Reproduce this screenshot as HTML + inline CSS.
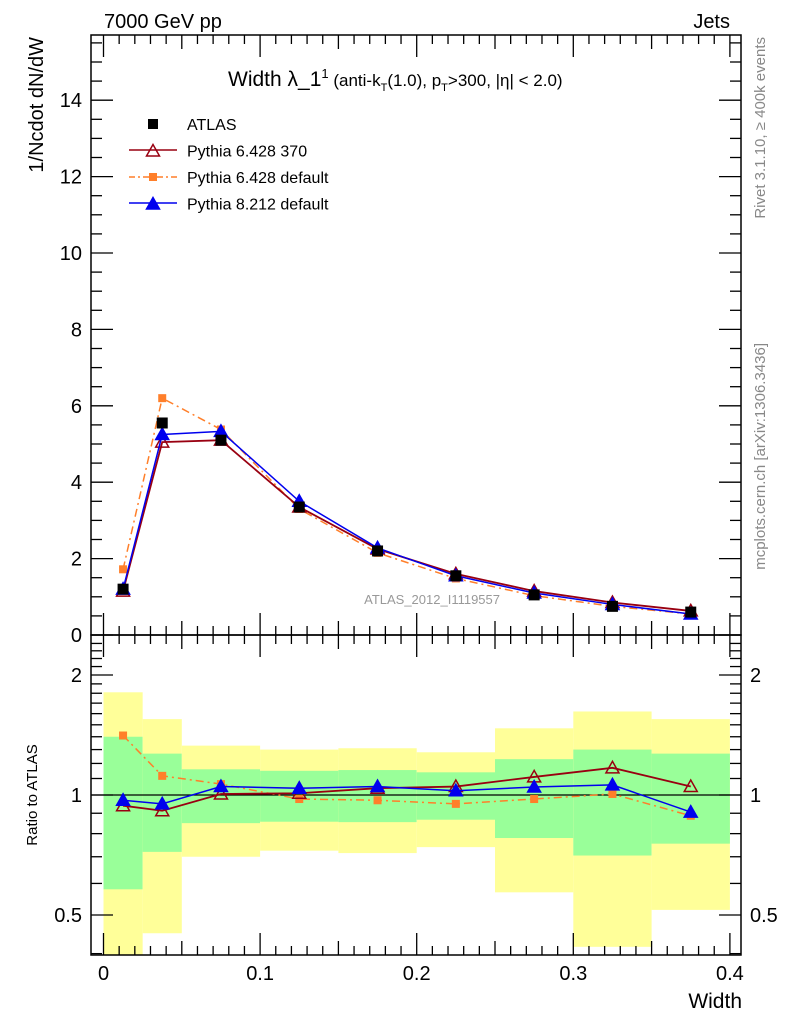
<!DOCTYPE html>
<html><head><meta charset="utf-8"><style>
body{margin:0;background:#fff}
svg{display:block;font-family:"Liberation Sans",sans-serif}
</style></head><body>
<svg id="c" width="786" height="1024" viewBox="0 0 786 1024"></svg>
<script>
const binEdges=[0,0.025,0.05,0.1,0.15,0.2,0.25,0.3,0.35,0.4];
const xCenters=[0.0125,0.0375,0.075,0.125,0.175,0.225,0.275,0.325,0.375];
const atlas=[1.2,5.55,5.1,3.35,2.2,1.55,1.05,0.75,0.6];
const py6370=[1.15,5.05,5.1,3.35,2.25,1.6,1.15,0.85,0.63];
const py6def=[1.72,6.2,5.38,3.3,2.15,1.48,1.03,0.75,0.55];
const py8=[1.2,5.25,5.33,3.5,2.28,1.55,1.1,0.8,0.55];
const r370=[0.94,0.913,1.006,1.01,1.04,1.05,1.11,1.17,1.05];
const rdef=[1.41,1.117,1.065,0.977,0.97,0.95,0.977,1.006,0.887];
const r8=[0.97,0.95,1.05,1.04,1.05,1.025,1.047,1.06,0.906];
const yelHi=[1.81,1.55,1.33,1.30,1.31,1.28,1.47,1.62,1.55];
const yelLo=[0.35,0.45,0.70,0.725,0.715,0.74,0.57,0.416,0.515];
const grnHi=[1.40,1.27,1.16,1.15,1.155,1.14,1.23,1.30,1.27];
const grnLo=[0.58,0.72,0.85,0.857,0.855,0.867,0.78,0.705,0.755];
const mainTicks=[0,2,4,6,8,10,12,14];
const ratioTicks=[0.5,1,2];
const xTicks=[0,0.1,0.2,0.3,0.4];

const L=91,R=741,T=35,M=635,B=955;
const X=v=>103.5+v*1566;
const Y=v=>635-v*38.2;
const RY=v=>795-Math.log2(v)*120;
const svg=document.getElementById('c');
const NS='http://www.w3.org/2000/svg';
function el(tag,attrs,parent){const e=document.createElementNS(NS,tag);for(const k in attrs)e.setAttribute(k,attrs[k]);(parent||svg).appendChild(e);return e;}
function txt(s,attrs,name){const e=el('text',attrs);e.textContent=s;


return e;}

const clip=el('clipPath',{id:'rc'});el('rect',{x:L,y:M,width:R-L,height:B-M},clip);
const bands=el('g',{'clip-path':'url(#rc)'});


for(let i=0;i<9;i++){
 const x0=X(binEdges[i]),x1=X(binEdges[i+1]);
 const y=el('rect',{x:x0,y:RY(yelHi[i]),width:x1-x0,height:RY(yelLo[i])-RY(yelHi[i]),fill:'#ffff99'},bands);
 
 
 const g=el('rect',{x:x0,y:RY(grnHi[i]),width:x1-x0,height:RY(grnLo[i])-RY(grnHi[i]),fill:'#99ff99'},bands);
 
 
}
el('line',{x1:L,x2:R,y1:RY(1),y2:RY(1),stroke:'#000','stroke-width':1.3});

const f1=el('rect',{x:L,y:T,width:R-L,height:M-T,fill:'none',stroke:'#000','stroke-width':1.5});

const f2=el('rect',{x:L,y:M,width:R-L,height:B-M,fill:'none',stroke:'#000','stroke-width':1.5});


for(let v=0;v<=15.5;v+=0.5){const y=Y(v);const maj=Math.abs(v%2)<1e-6;const l=maj?22:11;
 el('line',{x1:L,x2:L+l,y1:y,y2:y,stroke:'#000','stroke-width':1.3});
 el('line',{x1:R,x2:R-l,y1:y,y2:y,stroke:'#000','stroke-width':1.3});}
mainTicks.forEach(v=>txt(String(v),{x:82,y:Y(v)+7,'font-size':20,'text-anchor':'end'},'y-tick-label'));
for(let v=0.4;v<=2.5;v+=0.1){const vv=Math.round(v*10)/10;const y=RY(vv);if(y<M||y>B)continue;const maj=[0.5,1,2].includes(vv);const l=maj?22:11;
 el('line',{x1:L,x2:L+l,y1:y,y2:y,stroke:'#000','stroke-width':1.3});
 el('line',{x1:R,x2:R-l,y1:y,y2:y,stroke:'#000','stroke-width':1.3});}
ratioTicks.forEach(v=>{txt(String(v),{x:82,y:RY(v)+7,'font-size':20,'text-anchor':'end'},'ratio-tick-label-left');
 txt(String(v),{x:750,y:RY(v)+7,'font-size':20},'ratio-tick-label-right');});
for(let i=0;i<=40;i++){const v=i/100,x=X(v);const l=i%10==0?22:(i%5==0?14:9);
 [[M,-1],[B,-1],[M,1],[T,1]].forEach(([y0,d])=>el('line',{x1:x,x2:x,y1:y0,y2:y0+d*l,stroke:'#000','stroke-width':1.3}));}
xTicks.forEach(v=>txt(String(v),{x:X(v),y:980,'font-size':20,'text-anchor':'middle'},'x-tick-label'));

function series(vals,yf,color,dash,marker,name,w){
 const g=el('g',{});
 
 
 if(color){el('polyline',{points:vals.map((v,i)=>X(xCenters[i])+','+yf(v)).join(' '),fill:'none',stroke:color,'stroke-width':w||1.5,'stroke-dasharray':dash||''},g);}
 vals.forEach((v,i)=>marker(g,X(xCenters[i]),yf(v)));
}
const sq=(c,s)=>(g,x,y)=>el('rect',{x:x-s,y:y-s,width:2*s,height:2*s,fill:c},g);
const tri=(c,fill)=>(g,x,y)=>el('polygon',{points:`${x},${y-6.5} ${x-6.5},${y+5} ${x+6.5},${y+5}`,fill:fill?c:'none',stroke:c,'stroke-width':1.5},g);
series(py6def,Y,'#ff7f2a','8,4,2,4',sq('#ff7f2a',4),'series-pythia6-default');
series(py6370,Y,'#990011',null,tri('#990011',false),'series-pythia6-370',1.8);
series(py8,Y,'#0000ee',null,tri('#0000ee',true),'series-pythia8');
series(atlas,Y,null,null,sq('#000',5.5),'series-atlas');
series(rdef,RY,'#ff7f2a','8,4,2,4',sq('#ff7f2a',4),'ratio-pythia6-default');
series(r370,RY,'#990011',null,tri('#990011',false),'ratio-pythia6-370',1.8);
series(r8,RY,'#0000ee',null,tri('#0000ee',true),'ratio-pythia8');

const lg=el('g',{});
el('rect',{x:148,y:119,width:10,height:10,fill:'#000'},lg);
el('line',{x1:129,x2:177,y1:150,y2:150,stroke:'#990011','stroke-width':1.5},lg);tri('#990011',false)(lg,153,151);
el('line',{x1:129,x2:177,y1:177,y2:177,stroke:'#ff7f2a','stroke-width':1.5,'stroke-dasharray':'6,3,2,3'},lg);sq('#ff7f2a',4)(lg,153,177);
el('line',{x1:129,x2:177,y1:203,y2:203,stroke:'#0000ee','stroke-width':1.5},lg);tri('#0000ee',true)(lg,153,204);
['ATLAS','Pythia 6.428 370','Pythia 6.428 default','Pythia 8.212 default'].forEach((s,i)=>txt(s,{x:187,y:130+i*26.5,'font-size':16},'legend-label'));

txt('7000 GeV pp',{x:104,y:28,'font-size':20},'process-label');
txt('Jets',{x:730,y:28,'font-size':20,'text-anchor':'end'},'observable-label');
const t=el('text',{x:228,y:86,'font-size':21});
t.innerHTML='Width λ_1<tspan dy="-8" font-size="13">1</tspan><tspan dy="8" font-size="17"> (anti-k</tspan><tspan dy="5" font-size="11">T</tspan><tspan dy="-5" font-size="17">(1.0), p</tspan><tspan dy="5" font-size="11">T</tspan><tspan dy="-5" font-size="17">&gt;300, |η| &lt; 2.0)</tspan>';
txt('1/Ncdot dN/dW',{x:0,y:0,'font-size':20,'text-anchor':'end',transform:'translate(43,37) rotate(-90)'},'y-axis-title');
txt('Ratio to ATLAS',{x:0,y:0,'font-size':15,'text-anchor':'middle',transform:'translate(37,795) rotate(-90)'},'ratio-axis-title');
txt('Width',{x:742,y:1008,'font-size':21,'text-anchor':'end'},'x-axis-title');
txt('ATLAS_2012_I1119557',{x:500,y:604,'font-size':13,fill:'#999','text-anchor':'end'},'analysis-label');
txt('Rivet 3.1.10, ≥ 400k events',{x:0,y:0,'font-size':15,fill:'#888','text-anchor':'end',transform:'translate(765,37) rotate(-90)'},'rivet-label');
txt('mcplots.cern.ch [arXiv:1306.3436]',{x:0,y:0,'font-size':15,fill:'#888','text-anchor':'end',transform:'translate(765,343) rotate(-90)'},'mcplots-label');
</script>
</body></html>
